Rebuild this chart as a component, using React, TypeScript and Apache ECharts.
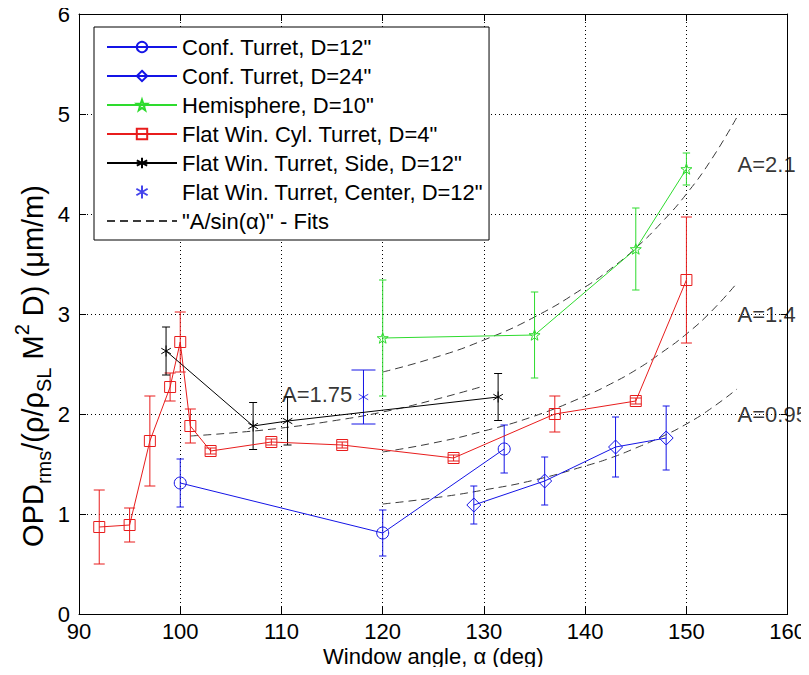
import React, { useEffect, useRef } from 'react';
import * as echarts from 'echarts';

const FONT = '"Liberation Sans", Arial, Helvetica, sans-serif';

// ---- data ----
const confD12X = [100, 120, 132];
const confD12Y = [1.31, 0.81, 1.65];
const confD12Err = [0.24, 0.23, 0.24];

const confD24X = [129, 136, 143, 148];
const confD24Y = [1.09, 1.33, 1.67, 1.76];
const confD24Err = [0.19, 0.24, 0.3, 0.32];

const hemiX = [120, 135, 145, 150];
const hemiY = [2.76, 2.79, 3.65, 4.45];
const hemiErr = [0.58, 0.43, 0.41, 0.16];

const cylX = [92, 95, 97, 99, 100, 101, 103, 109, 116, 127, 137, 145, 150];
const cylY = [0.87, 0.89, 1.73, 2.27, 2.72, 1.88, 1.63, 1.72, 1.69, 1.56, 2.0, 2.13, 3.34];
const cylErr = [0.37, 0.17, 0.45, 0.14, 0.3, 0.17, 0.03, 0.03, 0.03, 0.03, 0.18, 0.03, 0.63];

const sideX = [98.6, 107.2, 110.6, 131.4];
const sideY = [2.63, 1.88, 1.93, 2.17];
const sideErr = [0.24, 0.235, 0.24, 0.235];

const centerX = [118.1];
const centerY = [2.17];
const centerErr = [0.27];

const fitHighX = [120, 125, 130, 135, 140, 142.5, 145, 147.5, 150, 152.5, 155];
const fitA21 = [2.42, 2.56, 2.74, 2.97, 3.27, 3.45, 3.66, 3.91, 4.2, 4.55, 4.97];
const fitA14 = [1.62, 1.71, 1.83, 1.98, 2.18, 2.3, 2.44, 2.61, 2.8, 3.03, 3.31];
const fitA095 = [1.1, 1.16, 1.24, 1.34, 1.48, 1.56, 1.66, 1.77, 1.9, 2.06, 2.25];
const fitMidX = [101, 105, 110, 115, 120, 125, 130];
const fitA175 = [1.78, 1.81, 1.86, 1.93, 2.02, 2.14, 2.28];

const fitLabels = ['A=2.1', 'A=1.4', 'A=0.95', 'A=1.75'];
const fitLabelX = [155, 155, 155, 110];
const fitLabelY = [4.5, 3.0, 2.0, 2.2];

const NAMES = [
  'Conf. Turret, D=12"',
  'Conf. Turret, D=24"',
  'Hemisphere, D=10"',
  'Flat Win. Cyl. Turret, D=4"',
  'Flat Win. Turret, Side, D=12"',
  'Flat Win. Turret, Center, D=12"',
  '"A/sin(α)" - Fits',
];

const BLUE = '#1414e6';
const GREEN = '#2edb2e';
const RED = '#e81c1c';
const BLACK = '#000000';
const FITC = '#3a3a3a';

const STAR =
  'path://M0,-1L0.235,-0.324L0.951,-0.309L0.38,0.124L0.588,0.809L0,0.4L-0.588,0.809L-0.38,0.124L-0.951,-0.309L-0.235,-0.324Z';
const ASTER = 'path://M0,-1L0,1M-0.866,-0.5L0.866,0.5M-0.866,0.5L0.866,-0.5';

const zip = (xs: number[], ys: number[]) => xs.map((x, i) => [x, ys[i]]);
const HOLLOW = 'rgba(255,255,255,0)';

function lineSeries(name: string, xs: number[], ys: number[], color: string, symbol: string, size: number) {
  return {
    type: 'line',
    name,
    data: zip(xs, ys),
    symbol,
    symbolSize: size,
    showSymbol: true,
    showAllSymbol: true,
    symbolKeepAspect: true,
    lineStyle: { color, width: 1 },
    itemStyle: { color: HOLLOW, borderColor: color, borderWidth: 1 },
    z: 5,
  };
}

function errSeries(xs: number[], ys: number[], errs: number[], color: string, hw: number) {
  return {
    type: 'custom',
    silent: true,
    z: 4,
    data: xs.map((x, i) => [x, ys[i], errs[i]]),
    encode: { x: 0, y: 1 },
    renderItem: (params: any, api: any) => {
      const x = api.value(0);
      const y = api.value(1);
      const e = api.value(2);
      const top = api.coord([x, y + e]);
      const bot = api.coord([x, y - e]);
      const st = { stroke: color, lineWidth: 1, fill: 'none' };
      return {
        type: 'group',
        children: [
          { type: 'line', shape: { x1: top[0], y1: top[1], x2: bot[0], y2: bot[1] }, style: st },
          { type: 'line', shape: { x1: top[0] - hw, y1: top[1], x2: top[0] + hw, y2: top[1] }, style: st },
          { type: 'line', shape: { x1: bot[0] - hw, y1: bot[1], x2: bot[0] + hw, y2: bot[1] }, style: st },
        ],
      };
    },
  };
}

function fitSeries(xs: number[], ys: number[]) {
  return {
    type: 'line',
    name: NAMES[6],
    data: zip(xs, ys),
    symbol: 'none',
    smooth: true,
    lineStyle: { color: FITC, width: 1, type: [8, 5] },
    itemStyle: { color: FITC },
    z: 3,
  };
}

export default function App() {
  const ref = useRef<HTMLDivElement>(null);
  useEffect(() => {
    if (!ref.current) return;
    const chart = echarts.init(ref.current, undefined, { renderer: 'svg' });
    const axisCommon = {
      type: 'value',
      axisLine: { show: true, onZero: false, lineStyle: { color: '#000', width: 1 } },
      axisTick: { show: true, inside: true, length: 7, lineStyle: { color: '#000', width: 1 } },
    };
    const option: any = {
      animation: false,
      backgroundColor: '#ffffff',
      textStyle: { fontFamily: FONT },
      grid: { left: 79, right: 21, top: 14, bottom: 61, containLabel: false },
      xAxis: [
        {
          ...axisCommon,
          min: 90,
          max: 160,
          interval: 10,
          position: 'bottom',
          name: 'Window angle, α (deg)',
          nameLocation: 'middle',
          nameGap: 42,
          nameMoveOverlap: false,
          nameTextStyle: { fontSize: 22, fontFamily: FONT, color: '#000', verticalAlign: 'middle' },
          axisLabel: { fontSize: 22, fontFamily: FONT, color: '#000', margin: 6 },
          splitLine: { show: true, lineStyle: { color: '#000', width: 1, type: [1, 3] } },
        },
        {
          ...axisCommon,
          min: 90,
          max: 160,
          interval: 10,
          position: 'top',
          axisLabel: { show: false },
          splitLine: { show: false },
        },
      ],
      yAxis: [
        {
          ...axisCommon,
          min: 0,
          max: 6,
          interval: 1,
          position: 'left',
          axisLabel: { fontSize: 22, fontFamily: FONT, color: '#000', margin: 9 },
          splitLine: { show: true, lineStyle: { color: '#000', width: 1, type: [1, 3] } },
        },
        {
          ...axisCommon,
          min: 0,
          max: 6,
          interval: 1,
          position: 'right',
          axisLabel: { show: false },
          splitLine: { show: false },
        },
      ],
      legend: {
        data: [
          NAMES[0],
          NAMES[1],
          NAMES[2],
          NAMES[3],
          NAMES[4],
          NAMES[5],
          { name: NAMES[6], itemStyle: { opacity: 0 } },
        ],
        orient: 'vertical',
        left: 94,
        top: 27,
        padding: [9, 6, 8, 12],
        itemWidth: 70,
        itemHeight: 13,
        itemGap: 7,
        selectedMode: false,
        borderColor: '#000',
        borderWidth: 1,
        backgroundColor: '#ffffff',
        textStyle: { fontSize: 22, fontFamily: FONT, color: '#000', lineHeight: 22 },
      },
      graphic: [
        {
          type: 'text',
          x: 33,
          y: 366,
          rotation: Math.PI / 2,
          style: {
            text: '{b|OPD}{s|rms}{b|/(ρ/ρ}{s|SL}{b| M}{p|2}{b| D) (μm/m)}',
            align: 'center',
            verticalAlign: 'middle',
            fill: '#000',
            font: '29px ' + FONT,
            rich: {
              b: { fontSize: 29, lineHeight: 42, fontFamily: FONT, fill: '#000', verticalAlign: 'middle' },
              s: { fontSize: 20, lineHeight: 20, fontFamily: FONT, fill: '#000', verticalAlign: 'bottom' },
              p: { fontSize: 20, lineHeight: 20, fontFamily: FONT, fill: '#000', verticalAlign: 'top' },
            },
          },
        },
      ],
      series: [
        lineSeries(NAMES[0], confD12X, confD12Y, BLUE, 'circle', 12),
        lineSeries(NAMES[1], confD24X, confD24Y, BLUE, 'diamond', 14),
        lineSeries(NAMES[2], hemiX, hemiY, GREEN, STAR, 11),
        lineSeries(NAMES[3], cylX, cylY, RED, 'rect', 11),
        lineSeries(NAMES[4], sideX, sideY, BLACK, ASTER, 11),
        {
          type: 'scatter',
          name: NAMES[5],
          data: zip(centerX, centerY),
          symbol: ASTER,
          symbolSize: 11,
          symbolKeepAspect: true,
          itemStyle: { color: HOLLOW, borderColor: BLUE, borderWidth: 1 },
          z: 5,
        },
        fitSeries(fitHighX, fitA21),
        fitSeries(fitHighX, fitA14),
        fitSeries(fitHighX, fitA095),
        fitSeries(fitMidX, fitA175),
        errSeries(confD12X, confD12Y, confD12Err, BLUE, 3.7),
        errSeries(confD24X, confD24Y, confD24Err, BLUE, 3.5),
        errSeries(hemiX, hemiY, hemiErr, GREEN, 3.7),
        errSeries(cylX, cylY, cylErr, RED, 5.5),
        errSeries(sideX, sideY, sideErr, BLACK, 4),
        errSeries(centerX, centerY, centerErr, BLUE, 12),
        {
          type: 'scatter',
          silent: true,
          data: zip(fitLabelX, fitLabelY),
          symbolSize: 1,
          itemStyle: { color: 'rgba(0,0,0,0)' },
          label: {
            show: true,
            position: 'right',
            distance: 0,
            fontSize: 22,
            fontFamily: FONT,
            color: '#000',
            formatter: (p: any) => fitLabels[p.dataIndex],
          },
          z: 6,
        },
      ],
    };
    chart.setOption(option);
    return () => chart.dispose();
  }, []);
  return <div ref={ref} style={{ width: 809, height: 675, margin: -8 }} />;
}
